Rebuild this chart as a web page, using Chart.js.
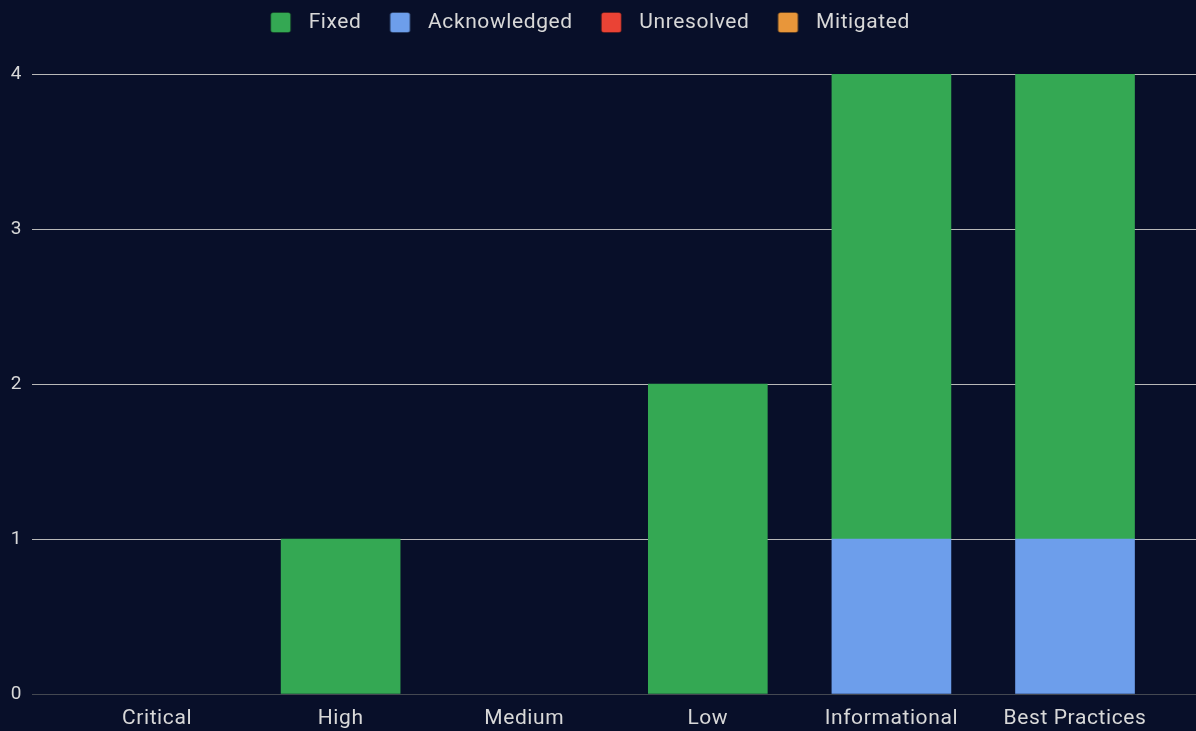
<!DOCTYPE html>
<html>
<head>
<meta charset="utf-8">
<script src="https://cdn.jsdelivr.net/npm/chart.js@4.4.0/dist/chart.umd.min.js"></script>
<style>
  html, body { margin: 0; padding: 0; background: #080f29; }
  #wrap { width: 1196px; height: 731px; }
</style>
</head>
<body>
<div id="wrap"><canvas id="chart"></canvas></div>
<script>
const categories = ['Critical', 'High', 'Medium', 'Low', 'Informational', 'Best Practices'];
const fixedValues = [0, 1, 0, 2, 3, 3];
const acknowledgedValues = [0, 0, 0, 0, 1, 1];
const unresolvedValues = [0, 0, 0, 0, 0, 0];
const mitigatedValues = [0, 0, 0, 0, 0, 0];
const yTicks = [0, 1, 2, 3, 4];

// empty stacks are left out so no hairline is drawn at zero
const toPoints = (values) => values.map((v, i) => ({ x: i, y: v === 0 ? null : v }));

// legend swatch: rounded square, blank room on its left acts as item spacing
const makeSwatch = (color) => {
  const c = document.createElement('canvas');
  c.width = 46;
  c.height = 21;
  const g = c.getContext('2d');
  g.fillStyle = color;
  g.beginPath();
  g.roundRect(18.5, 0.5, 20, 20, 2.5);
  g.fill();
  g.strokeStyle = 'rgba(0,0,0,0.25)';
  g.lineWidth = 1;
  g.stroke();
  return c;
};

// letter spacing, room under the legend, legend nudged left
const textStyle = {
  id: 'textStyle',
  beforeInit(chart) {
    const fit = chart.legend.fit;
    chart.legend.fit = function () {
      fit.bind(chart.legend)();
      this.height += 31;
    };
  },
  afterLayout(chart) {
    chart.legend.left -= 21;
    chart.legend.right -= 21;
  },
  beforeUpdate(chart) {
    chart.ctx.letterSpacing = '0.6px';
  },
  beforeDraw(chart) {
    chart.ctx.letterSpacing = '0.6px';
  },
};

Chart.defaults.font.family = 'Roboto, sans-serif';
Chart.defaults.color = '#d8d8d8';

new Chart(document.getElementById('chart'), {
  type: 'bar',
  data: {
    datasets: [
      { label: 'Fixed', data: toPoints(fixedValues), backgroundColor: '#34a853', pointStyle: makeSwatch('#34a853'), order: 1 },
      { label: 'Acknowledged', data: toPoints(acknowledgedValues), backgroundColor: '#6d9eeb', pointStyle: makeSwatch('#6d9eeb'), order: 0 },
      { label: 'Unresolved', data: toPoints(unresolvedValues), backgroundColor: '#ea4335', pointStyle: makeSwatch('#ea4335'), order: 2 },
      { label: 'Mitigated', data: toPoints(mitigatedValues), backgroundColor: '#e8963a', pointStyle: makeSwatch('#e8963a'), order: 3 },
    ],
  },
  options: {
    responsive: true,
    maintainAspectRatio: false,
    animation: false,
    layout: { padding: { left: 8, right: 0, top: 2, bottom: 0 } },
    datasets: { bar: { barThickness: 119, skipNull: true } },
    plugins: {
      tooltip: { enabled: false },
      legend: {
        position: 'top',
        labels: {
          usePointStyle: true,
          pointStyleWidth: 46,
          boxHeight: 21,
          padding: 10,
          color: '#d8d8d8',
          font: { size: 21 },
          sort: (a, b) => a.datasetIndex - b.datasetIndex,
        },
      },
    },
    scales: {
      x: {
        type: 'linear',
        stacked: true,
        offset: false,
        min: -0.681,
        max: 5.659,
        grid: { display: false, drawTicks: false, tickLength: 0 },
        border: { display: false },
        afterBuildTicks(axis) {
          axis.ticks = categories.map((c, i) => ({ value: i }));
        },
        afterFit(axis) {
          axis.height = 37;
        },
        ticks: {
          autoSkip: false,
          maxRotation: 0,
          padding: 12,
          color: '#d8d8d8',
          font: { size: 21 },
          callback: (value) => categories[value],
        },
      },
      y: {
        stacked: true,
        min: 0,
        max: 4,
        afterBuildTicks(axis) {
          axis.ticks = yTicks.map((v) => ({ value: v }));
        },
        afterFit(axis) {
          axis.width = 24;
        },
        grid: {
          color: (ctx) => (ctx.tick && ctx.tick.value === 0 ? '#444851' : '#b8b8b8'),
          drawTicks: false,
        },
        border: { display: false },
        ticks: {
          padding: 10,
          color: '#d8d8d8',
          font: { size: 19 },
        },
      },
    },
  },
  plugins: [textStyle],
});
</script>
</body>
</html>
